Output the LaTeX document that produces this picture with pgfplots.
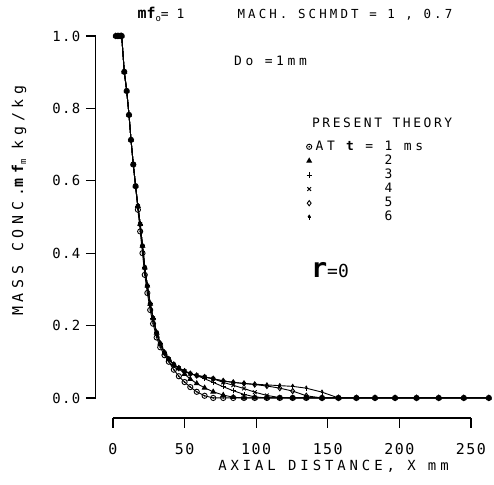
\documentclass[border=0pt]{standalone}
\usepackage{fontspec}
\usepackage{pgfplots}
\usepackage{pgfplotstable}
\pgfplotsset{compat=1.18}
\newfontfamily\plt{DejaVu Sans Mono}
\newfontfamily\pls[LetterSpace=20]{DejaVu Sans Mono}
\newfontfamily\plm[LetterSpace=25]{DejaVu Sans Mono}
\newfontfamily\plw[LetterSpace=28]{DejaVu Sans Mono}
\newfontfamily\ply[LetterSpace=32]{DejaVu Sans Mono}
\newfontfamily\plq[LetterSpace=10]{DejaVu Sans Mono}

\pgfdeclareplotmark{odot}{%
  \pgfpathcircle{\pgfpointorigin}{\pgfplotmarksize}\pgfusepathqstroke
  \pgfpathcircle{\pgfpointorigin}{0.35\pgfplotmarksize}\pgfusepathqfill}
\pgfdeclareplotmark{uparrow}{%
  \pgfpathmoveto{\pgfpoint{0pt}{-\pgfplotmarksize}}%
  \pgfpathlineto{\pgfpoint{0pt}{0.4\pgfplotmarksize}}\pgfusepathqstroke
  \pgfpathmoveto{\pgfpoint{-0.5\pgfplotmarksize}{-0.2\pgfplotmarksize}}%
  \pgfpathlineto{\pgfpoint{0.5\pgfplotmarksize}{-0.2\pgfplotmarksize}}\pgfusepathqstroke
  \pgfpathmoveto{\pgfpoint{-0.6\pgfplotmarksize}{0.2\pgfplotmarksize}}%
  \pgfpathlineto{\pgfpoint{0.6\pgfplotmarksize}{0.2\pgfplotmarksize}}%
  \pgfpathlineto{\pgfpoint{0pt}{1.1\pgfplotmarksize}}\pgfpathclose\pgfusepathqfill}

\pgfplotstableread{
x      t1     t2     t3     t4     t5     t6
2      1.000  1.000  1.000  1.000  1.000  1.000
3.5    1.000  1.000  1.000  1.000  1.000  1.000
5      1.000  1.000  1.000  1.000  1.000  1.000
6.1    1.000  1.000  1.000  1.000  1.000  1.000
7.9    0.901  0.901  0.901  0.901  0.901  0.901
9.6    0.848  0.848  0.848  0.848  0.848  0.848
11.2   0.782  0.782  0.782  0.782  0.782  0.782
12.6   0.713  0.713  0.713  0.713  0.713  0.713
14.2   0.645  0.645  0.645  0.645  0.645  0.645
15.8   0.585  0.585  0.585  0.585  0.585  0.585
17.4   0.520  0.530  0.530  0.530  0.530  0.530
19     0.460  0.480  0.480  0.480  0.480  0.480
20.6   0.400  0.420  0.420  0.420  0.420  0.420
22.2   0.340  0.360  0.360  0.360  0.360  0.360
24     0.290  0.310  0.310  0.310  0.310  0.310
26     0.243  0.260  0.260  0.260  0.260  0.260
28     0.205  0.220  0.220  0.220  0.220  0.220
30.5   0.167  0.180  0.180  0.180  0.180  0.180
33     0.140  0.150  0.150  0.150  0.150  0.150
36     0.118  0.125  0.125  0.125  0.125  0.125
39     0.100  0.107  0.107  0.107  0.107  0.107
42.5   0.078  0.092  0.092  0.092  0.092  0.092
46     0.060  0.082  0.082  0.082  0.082  0.082
50     0.044  0.066  0.074  0.074  0.074  0.074
54     0.030  0.052  0.067  0.067  0.067  0.067
58.5   0.017  0.040  0.062  0.062  0.062  0.062
64     0.006  0.028  0.053  0.058  0.058  0.058
70     0.000  0.017  0.043  0.053  0.053  0.053
77     0.000  0.008  0.031  0.043  0.047  0.047
84     0.000  0.002  0.020  0.035  0.043  0.043
91.5   0.000  0.000  0.010  0.026  0.040  0.040
99     0.000  0.000  0.003  0.016  0.037  0.038
107.5  0.000  0.000  0.000  0.007  0.033  0.036
116.5  0.000  0.000  0.000  0.001  0.027  0.034
125.5  0.000  0.000  0.000  0.000  0.019  0.032
135    0.000  0.000  0.000  0.000  0.006  0.027
146    0.000  0.000  0.000  0.000  0.000  0.016
157.5  0.000  0.000  0.000  0.000  0.000  0.000
170    0.000  0.000  0.000  0.000  0.000  0.000
183    0.000  0.000  0.000  0.000  0.000  0.000
197    0.000  0.000  0.000  0.000  0.000  0.000
212    0.000  0.000  0.000  0.000  0.000  0.000
227.5  0.000  0.000  0.000  0.000  0.000  0.000
245    0.000  0.000  0.000  0.000  0.000  0.000
262.5  0.000  0.000  0.000  0.000  0.000  0.000
}\datatable

\begin{document}
\begin{tikzpicture}
\begin{axis}[
  x=1.432bp, y=362bp,
  xmin=-12, xmax=265, ymin=-0.055, ymax=1.0,
  clip=false,
  axis x line*=bottom, axis y line*=left,
  axis line style={draw=none},
  tick align=outside, major tick length=10bp,
  tick style={black, line width=1.2bp},
  xtick={0,50,100,150,200,250},
  ytick={0,0.2,0.4,0.6,0.8,1.0},
  /pgf/number format/assume math mode=true,
  xticklabel style={font=\plq\fontsize{15}{15}\selectfont, yshift=-12bp},
  yticklabel style={font=\plq\fontsize{14}{14}\selectfont, xshift=-2bp,
     /pgf/number format/.cd, fixed, fixed zerofill, precision=1},
  every axis plot/.append style={black, line width=0.9bp, mark size=2.6bp, mark options={solid}},
  legend image code/.code={\draw plot coordinates {(0bp,0bp)};},
  legend style={at={(axis cs:133,0.718)}, anchor=north west, draw=none, fill=none,
     font=\plw\fontsize{13}{13}\selectfont, row sep=1bp,
     nodes={inner sep=0.8bp, text height=9bp, text depth=2.5bp}},
  legend cell align=left,
]
\addplot[mark=odot] table[x=x, y=t1] {\datatable};
\addlegendentry{\hspace*{3bp}AT {\bfseries t} = 1 ms}
\addplot[mark=triangle*] table[x=x, y=t2] {\datatable};
\addlegendentry{\hspace*{3bp}\hphantom{AT t = }2}
\addplot[mark=+] table[x=x, y=t3] {\datatable};
\addlegendentry{\hspace*{3bp}\hphantom{AT t = }3}
\addplot[mark=x] table[x=x, y=t4] {\datatable};
\addlegendentry{\hspace*{3bp}\hphantom{AT t = }4}
\addplot[mark=diamond] table[x=x, y=t5] {\datatable};
\addlegendentry{\hspace*{3bp}\hphantom{AT t = }5}
\addplot[mark=uparrow] table[x=x, y=t6] {\datatable};
\addlegendentry{\hspace*{3bp}\hphantom{AT t = }6}

% axis lines
\draw[line width=1.3bp] (axis cs:-12,0) -- (axis cs:-12,1);
\draw[line width=1.3bp] (axis cs:0,-0.055) -- (axis cs:250,-0.055);

% texts
\node[font=\plw\fontsize{14}{14}\selectfont] at (axis cs:154,-0.19) {AXIAL DISTANCE, X mm};
\node[font=\ply\fontsize{15}{15}\selectfont, rotate=90] at (axis cs:-65.6,0.545)
  {MASS CONC.{\bfseries mf}\raisebox{-3bp}{\fontsize{9}{9}\selectfont m}\hspace{10bp}kg/kg};
\node[font=\plt\fontsize{13}{13}\selectfont] at (axis cs:33.5,1.061)
  {{\fontsize{15}{15}\selectfont\bfseries mf}\raisebox{-3bp}{\fontsize{9}{9}\selectfont o}= 1};
\node[font=\plm\fontsize{12.5}{12.5}\selectfont] at (axis cs:162,1.058) {MACH. SCHMDT = 1 , 0.7};
\node[font=\plw\fontsize{13}{13}\selectfont] at (axis cs:110,0.931) {Do =1mm};
\node[font=\pls\fontsize{13}{13}\selectfont] at (axis cs:188,0.760) {PRESENT THEORY};
\node at (axis cs:151.5,0.354) {{\fontsize{27}{27}\selectfont\plt\bfseries r}{\fontsize{18}{18}\selectfont\plt =0}};

% bounding box
\path (axis cs:-78.9,-0.2403) rectangle (axis cs:266.1,1.0994);
\end{axis}
\end{tikzpicture}
\end{document}
